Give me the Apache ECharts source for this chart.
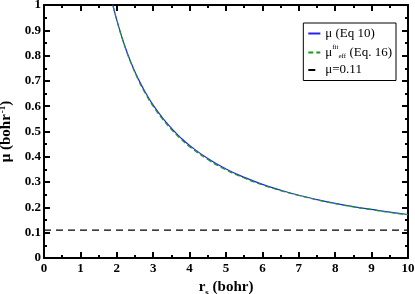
<!DOCTYPE html>
<html><head><meta charset="utf-8">
<script src="https://cdn.jsdelivr.net/npm/echarts@6/dist/echarts.min.js"></script>
<style>html,body{margin:0;padding:0;background:#fff}#c{width:415px;height:294px}</style>
</head><body><div id="c"></div>
<script>
const rs = [1.85,1.9,2.0,2.2,2.4,2.6,2.8,3.0,3.25,3.5,3.75,4.0,4.5,5.0,5.5,6.0,6.5,7.0,7.5,8.0,8.5,9.0,9.5,10.0];
const muEq10 = [1.025,0.995,0.940,0.846,0.769,0.705,0.651,0.604,0.555,0.513,0.476,0.445,0.393,0.352,0.319,0.291,0.268,0.248,0.231,0.216,0.203,0.192,0.181,0.172];
const muFit = [1.025,0.995,0.940,0.845,0.767,0.701,0.646,0.599,0.550,0.508,0.471,0.440,0.389,0.348,0.316,0.289,0.266,0.247,0.230,0.215,0.202,0.191,0.180,0.171];
const constX = [0,10];
const constMu = [0.11,0.11];
const xTicks = [0,1,2,3,4,5,6,7,8,9,10];
const yTicks = [0,0.1,0.2,0.3,0.4,0.5,0.6,0.7,0.8,0.9,1];
const seriesNames = ['μ (Eq 10)', 'μfit (Eq. 16)', 'μ=0.11'];

const serif = 'Liberation Serif';
const tickStyle = {show:true, inside:true, length:6, lineStyle:{color:'#000', width:2}};
const minorStyle = {show:true, splitNumber:2, length:3, lineStyle:{color:'#000', width:2}};
const axLine = {show:true, onZero:false, lineStyle:{color:'#000', width:2}};
function xAx(pos, labels){
  return {type:'value', position:pos, min:xTicks[0], max:xTicks[xTicks.length-1], interval:1,
    axisLine:axLine, axisTick:tickStyle, minorTick:minorStyle, splitLine:{show:false}, minorSplitLine:{show:false},
    axisLabel:{show:labels, color:'#000', fontFamily:serif, fontWeight:'bold', fontSize:13, margin:4},
    name: labels ? '{r|r}{s|s}{r| (bohr)}' : '', nameLocation:'middle', nameGap:20,
    nameTextStyle:{rich:{r:{fontFamily:serif, fontWeight:'bold', fontSize:15, color:'#000'}, s:{fontFamily:serif, fontWeight:'bold', fontSize:9, color:'#000', padding:[10,0,0,0]}}}};
}
function yAx(pos, labels){
  return {type:'value', position:pos, min:yTicks[0], max:yTicks[yTicks.length-1], interval:0.1,
    axisLine:axLine, axisTick:tickStyle, minorTick:minorStyle, splitLine:{show:false}, minorSplitLine:{show:false},
    axisLabel:{show:labels, color:'#000', fontFamily:serif, fontWeight:'bold', fontSize:13, margin:3,
      formatter:v=>String(Math.round(v*10)/10)},
    name: labels ? '{r|μ (bohr}{s|-1}{r|)}' : '', nameLocation:'middle', nameGap:27, nameRotate:90,
    nameTextStyle:{rich:{r:{fontFamily:serif, fontWeight:'bold', fontSize:15, color:'#000'}, s:{fontFamily:serif, fontWeight:'bold', fontSize:9, color:'#000', padding:[0,0,8,1]}}}};
}
const chart = echarts.init(document.getElementById('c'), null, {renderer:'canvas'});
chart.setOption({
  animation:false,
  backgroundColor:'#fff',
  grid:{left:44, right:7, top:5, bottom:36, containLabel:false, outerBoundsMode:'none'},
  xAxis:[xAx('bottom', true), xAx('top', false)],
  yAxis:[yAx('left', true), yAx('right', false)],
  legend:{
    right:19, top:23, orient:'vertical', itemWidth:12, itemHeight:8, itemGap:4,
    borderColor:'#000', borderWidth:1, padding:[4,4,4,4], backgroundColor:'#fff',
    textStyle:{fontFamily:serif, fontSize:13, color:'#000',
      rich:{t:{fontFamily:serif, fontSize:13, color:'#000'}, sp:{fontFamily:serif, fontSize:7, color:'#000', padding:[0,0,10,0]}, sb:{fontFamily:serif, fontSize:7, color:'#000', padding:[7,0,0,0]}}},
    formatter: n => n === seriesNames[1] ? '{t|μ}{sp|fit}{sb|eff}{t| (Eq. 16)}' : n,
    data: seriesNames.map(n => ({name:n, itemStyle:{opacity:0}}))
  },
  series:[
    {name:seriesNames[0], type:'line', data:rs.map((x,i)=>[x,muEq10[i]]), smooth:true, showSymbol:false, symbol:'none', clip:true,
      lineStyle:{color:'#2222ff', width:1.2}, itemStyle:{color:'#2222ff'}},
    {name:seriesNames[1], type:'line', data:rs.map((x,i)=>[x,muFit[i]]), smooth:true, showSymbol:false, symbol:'none', clip:true,
      lineStyle:{color:'#1a9a1a', width:1.2, type:[5,3]}, itemStyle:{color:'#1a9a1a'}},
    {name:seriesNames[2], type:'line', data:constX.map((x,i)=>[x,constMu[i]]), showSymbol:false, symbol:'none',
      lineStyle:{color:'#000', width:1.3, type:[7,5]}, itemStyle:{color:'#000'}}
  ]
});
</script></body></html>
